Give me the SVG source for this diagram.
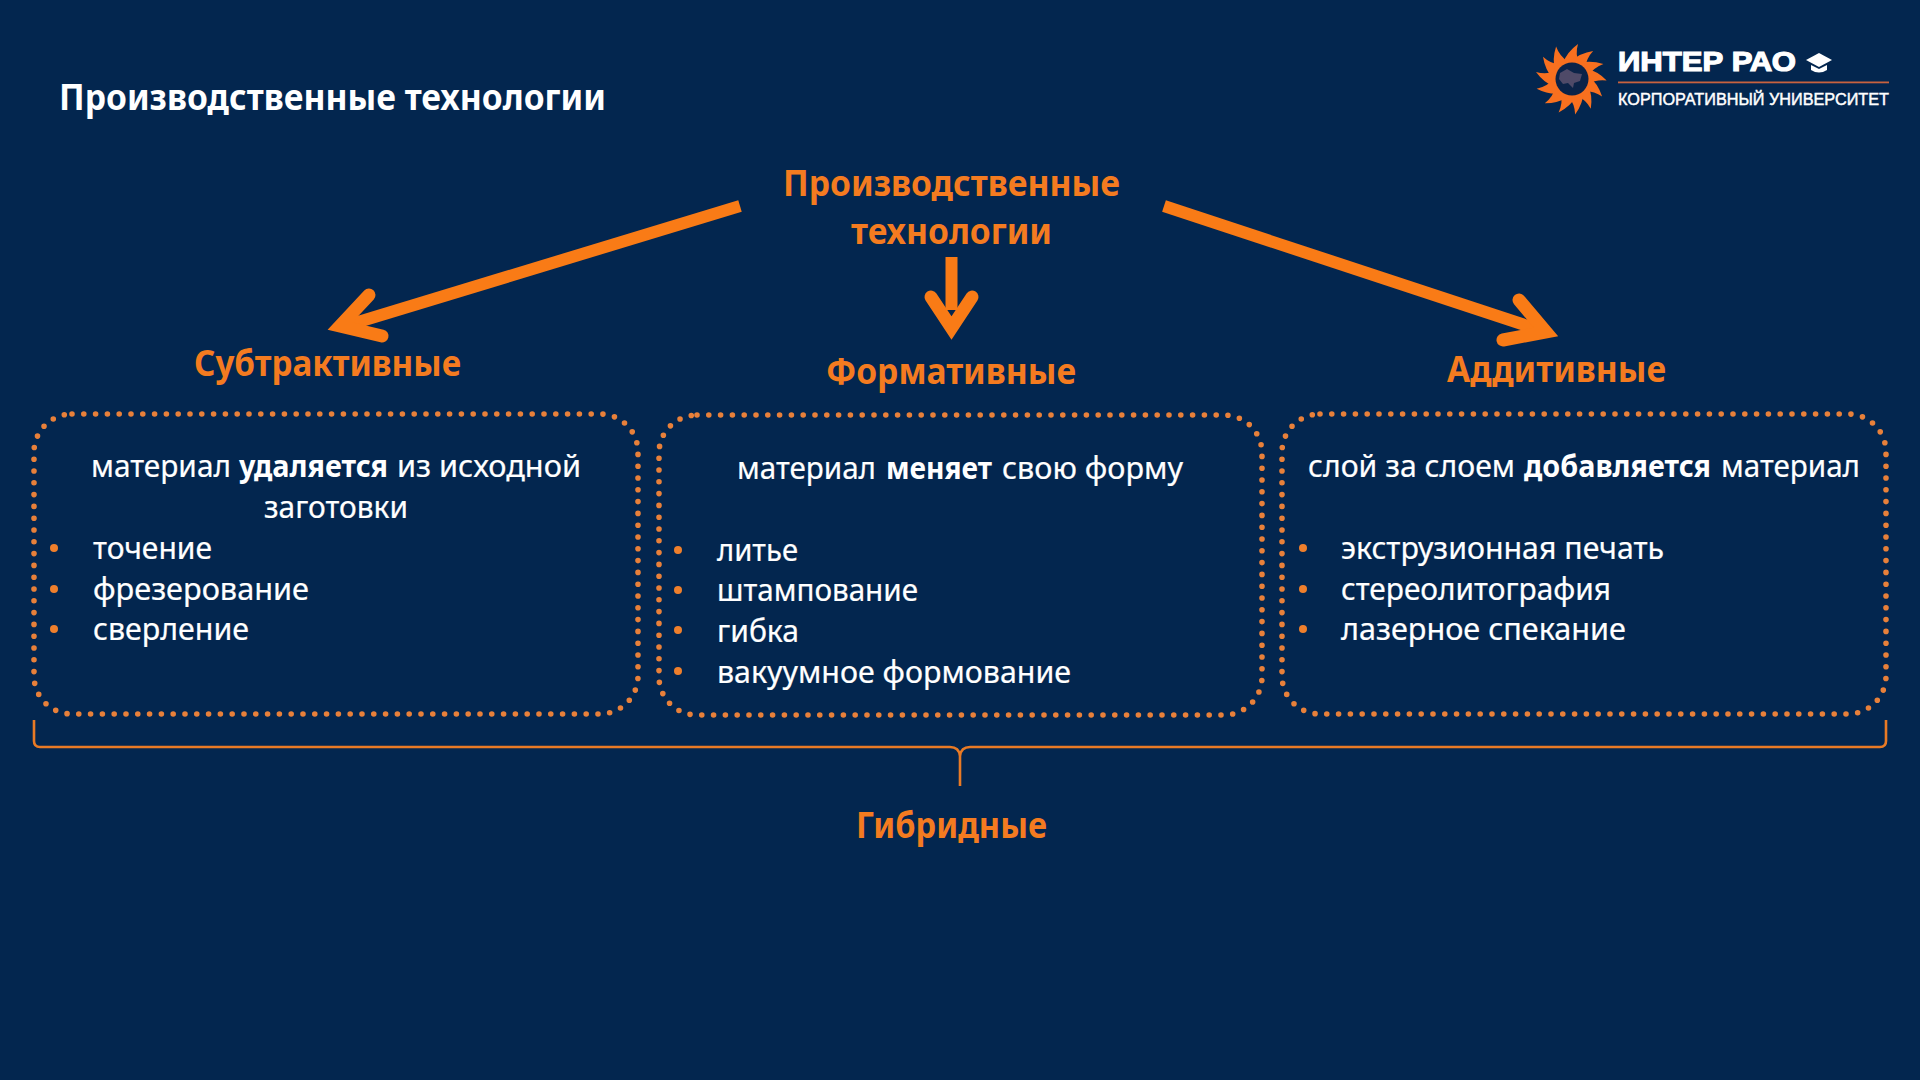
<svg xmlns="http://www.w3.org/2000/svg" width="1920" height="1080" viewBox="0 0 1920 1080">
<style>
text{font-family:"Noto Sans","Open Sans","Liberation Sans",sans-serif}
.b{font-size:30px;fill:#fff;stroke:#fff;stroke-width:.2}
.bb{font-size:30px;fill:#fff;font-weight:700}
.h{font-size:36px;fill:#f47b20;font-weight:700}
.box{fill:none;stroke:#e8803a;stroke-width:5.6;stroke-linecap:round;stroke-dasharray:0 11.8}
.st{fill:none;stroke:#f97b16;stroke-width:12}
.hd{fill:none;stroke:#f97b16;stroke-width:13;stroke-linecap:round;stroke-linejoin:miter;stroke-miterlimit:10}
.dot{fill:#ef7f2c}
.logo{font-family:"Liberation Sans",Arial,sans-serif;fill:#fff}
</style>
<defs>
<path id="ray" d="M-8,-16 Q-4,-27 7,-35 Q4,-25 8,-15 Z" fill="#f8701f"/>
</defs>
<rect width="1920" height="1080" fill="#03264f"/>
<g id="title"><text x="59" y="110" font-size="36" font-weight="700" fill="#fff" textLength="547" lengthAdjust="spacingAndGlyphs">Производственные технологии</text></g>
<g id="logo">
<g transform="translate(1571 79)">
<use href="#ray" transform="rotate(0)"/><use href="#ray" transform="rotate(27)"/><use href="#ray" transform="rotate(54)"/><use href="#ray" transform="rotate(81)"/><use href="#ray" transform="rotate(108)"/><use href="#ray" transform="rotate(135)"/><use href="#ray" transform="rotate(162)"/><use href="#ray" transform="rotate(189)"/><use href="#ray" transform="rotate(216)"/><use href="#ray" transform="rotate(243)"/><use href="#ray" transform="rotate(270)"/><use href="#ray" transform="rotate(297)"/><use href="#ray" transform="rotate(324)"/>
<circle r="19.5" fill="#f8701f"/>
<circle cx="1" cy="0" r="16.5" fill="#0b2348"/>
<path d="M-11,-6 L-4,-10 L3,-6 L11,-5 L9,2 L3,4 L2,9 L-3,4 L-8,5 L-12,0 Z" fill="#4f4a68"/>
</g>
<text class="logo" x="1618" y="71" font-size="28" font-weight="700" stroke="#fff" stroke-width="1.2" textLength="178" lengthAdjust="spacingAndGlyphs">ИНТЕР РАО</text>
<path d="M1819,53 L1832,60 L1819,67 L1806,60 Z" fill="#fff"/>
<path d="M1811,65 L1811,70 Q1819,75 1827,70 L1827,65 L1819,69 Z" fill="#fff"/>
<rect x="1618" y="81.5" width="271" height="1.8" fill="#c8623f"/>
<text class="logo" x="1618" y="105" font-size="16" stroke="#fff" stroke-width=".45" textLength="271" lengthAdjust="spacingAndGlyphs">КОРПОРАТИВНЫЙ УНИВЕРСИТЕТ</text>
</g>
<g id="connectors">
<path class="st" d="M740,206 L345,326"/>
<path class="hd" d="M369,295 L340,326 L382,336"/>
<path class="st" d="M951.5,257 L951.5,310"/>
<path class="hd" d="M931,297 L951.5,328 L972,297"/>
<path class="st" d="M1164,206 L1540,330"/>
<path class="hd" d="M1519,300 L1546,332 L1503,340"/>
<path id="brace" d="M34,720 V741 Q34,747 40,747 H950 Q959,747 960,756 V786 M960,756 Q961,747 970,747 H1880 Q1886,747 1886,741 V720" fill="none" stroke="#e97a25" stroke-width="2.6"/>
</g>
<g id="root"><text class="h" x="783" y="196" textLength="337" lengthAdjust="spacingAndGlyphs">Производственные</text><text class="h" x="851" y="244" textLength="201" lengthAdjust="spacingAndGlyphs">технологии</text></g>
<g id="sub"><text class="h" x="194" y="376" textLength="267" lengthAdjust="spacingAndGlyphs">Субтрактивные</text>
<rect class="box" x="34" y="414" width="604" height="300" rx="38"/>
<text class="b" x="91" y="477" textLength="140" lengthAdjust="spacingAndGlyphs">материал</text><text class="bb" x="239" y="477" textLength="149" lengthAdjust="spacingAndGlyphs">удаляется</text><text class="b" x="397" y="477" textLength="184" lengthAdjust="spacingAndGlyphs">из исходной</text>
<text class="b" x="264" y="518" textLength="144" lengthAdjust="spacingAndGlyphs">заготовки</text>
<circle class="dot" cx="54" cy="548" r="4"/><text class="b" x="93" y="559" textLength="119" lengthAdjust="spacingAndGlyphs">точение</text>
<circle class="dot" cx="54" cy="589" r="4"/><text class="b" x="93" y="600" textLength="216" lengthAdjust="spacingAndGlyphs">фрезерование</text>
<circle class="dot" cx="54" cy="629" r="4"/><text class="b" x="93" y="640" textLength="156" lengthAdjust="spacingAndGlyphs">сверление</text>
</g>
<g id="form"><text class="h" x="826" y="384" textLength="250" lengthAdjust="spacingAndGlyphs">Формативные</text>
<rect class="box" x="659" y="415" width="603" height="300" rx="38"/>
<text class="b" x="737" y="479" textLength="139" lengthAdjust="spacingAndGlyphs">материал</text><text class="bb" x="886" y="479" textLength="106" lengthAdjust="spacingAndGlyphs">меняет</text><text class="b" x="1002" y="479" textLength="181" lengthAdjust="spacingAndGlyphs">свою форму</text>
<circle class="dot" cx="678" cy="550" r="4"/><text class="b" x="717" y="561" textLength="81" lengthAdjust="spacingAndGlyphs">литье</text>
<circle class="dot" cx="678" cy="590" r="4"/><text class="b" x="717" y="601" textLength="201" lengthAdjust="spacingAndGlyphs">штампование</text>
<circle class="dot" cx="678" cy="630" r="4"/><text class="b" x="717" y="642" textLength="82" lengthAdjust="spacingAndGlyphs">гибка</text>
<circle class="dot" cx="678" cy="671" r="4"/><text class="b" x="717" y="683" textLength="354" lengthAdjust="spacingAndGlyphs">вакуумное формование</text>
</g>
<g id="add"><text class="h" x="1447" y="382" textLength="219" lengthAdjust="spacingAndGlyphs">Аддитивные</text>
<rect class="box" x="1282" y="414" width="604" height="300" rx="38"/>
<text class="b" x="1308" y="477" textLength="207" lengthAdjust="spacingAndGlyphs">слой за слоем</text><text class="bb" x="1524" y="477" textLength="187" lengthAdjust="spacingAndGlyphs">добавляется</text><text class="b" x="1721" y="477" textLength="139" lengthAdjust="spacingAndGlyphs">материал</text>
<circle class="dot" cx="1303" cy="548" r="4"/><text class="b" x="1341" y="559" textLength="323" lengthAdjust="spacingAndGlyphs">экструзионная печать</text>
<circle class="dot" cx="1303" cy="589" r="4"/><text class="b" x="1341" y="600" textLength="270" lengthAdjust="spacingAndGlyphs">стереолитография</text>
<circle class="dot" cx="1303" cy="629" r="4"/><text class="b" x="1341" y="640" textLength="285" lengthAdjust="spacingAndGlyphs">лазерное спекание</text>
</g>
<g id="hybrid"><text class="h" x="856" y="838" textLength="191" lengthAdjust="spacingAndGlyphs">Гибридные</text></g>
</svg>
